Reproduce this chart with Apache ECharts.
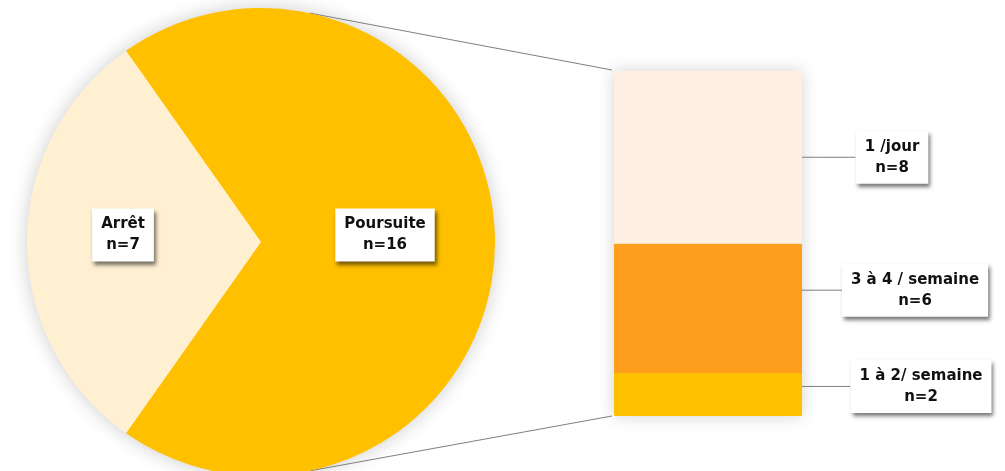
<!DOCTYPE html>
<html>
<head>
<meta charset="utf-8">
<script src="https://cdn.jsdelivr.net/npm/echarts@6/dist/echarts.min.js"></script>
<style>
html, body { margin: 0; padding: 0; background: #fff; }
#main { width: 1005px; height: 471px; }
</style>
</head>
<body>
<div id="main"></div>
<script>
// pie : arrêt / poursuite
const pieNames = ['Arrêt', 'Poursuite']
const pieValues = [7, 16]
const pieColors = ['#fff0d2', '#ffc000']

// bar : fréquence chez les 16 "poursuite" (bas -> haut)
const barNames = ['1 à 2/ semaine', '3 à 4 / semaine', '1 /jour']
const barValues = [2, 6, 8]
const barColors = ['#ffc000', '#fd9f1c', '#fdf0e3']
const barLabelDist = [119, 113, 90]
const barLabelDy = [-8, -18, 0]

const pieCenter = [261, 242]
const pieRadius = 234
const barGrid = { left: 614, top: 71, width: 188, height: 345 }

const font = 'DejaVu Sans'
const boxStyle = {
  color: '#111',
  fontFamily: font,
  fontWeight: 'bold',
  fontSize: 15,
  lineHeight: 21,
  align: 'center',
  backgroundColor: '#fff',
  padding: [6, 9, 5, 9],
  shadowColor: 'rgba(0,0,0,0.55)',
  shadowBlur: 4,
  shadowOffsetX: 2,
  shadowOffsetY: 3
}

const arretShare = pieValues[0] / (pieValues[0] + pieValues[1])
const startAngle = 180 + arretShare * 180

const barTotal = barValues.reduce((a, b) => a + b, 0)

const myChart = echarts.init(document.getElementById('main'))

// connector lines : pie edge -> bar corners
const a = 12 * Math.PI / 180
const topPt = [pieCenter[0] + pieRadius * Math.sin(a), pieCenter[1] - pieRadius * Math.cos(a)]
const botPt = [pieCenter[0] + pieRadius * Math.sin(a), pieCenter[1] + pieRadius * Math.cos(a)]

const option = {
  backgroundColor: '#fff',
  animation: false,
  graphic: [
    {
      type: 'circle',
      shape: { cx: pieCenter[0], cy: pieCenter[1], r: pieRadius - 1 },
      style: { fill: '#fff', shadowBlur: 20, shadowColor: 'rgba(0,0,0,0.22)' },
      z: -1
    },
    {
      type: 'rect',
      shape: { x: barGrid.left, y: barGrid.top, width: barGrid.width, height: barGrid.height },
      style: { fill: '#fff', shadowBlur: 16, shadowColor: 'rgba(0,0,0,0.18)' },
      z: -1
    },
    {
      type: 'line',
      shape: { x1: topPt[0], y1: topPt[1], x2: barGrid.left - 2, y2: barGrid.top - 1 },
      style: { stroke: '#7f7f7f', lineWidth: 1 }
    },
    {
      type: 'line',
      shape: { x1: botPt[0], y1: botPt[1], x2: barGrid.left - 2, y2: barGrid.top + barGrid.height },
      style: { stroke: '#7f7f7f', lineWidth: 1 }
    }
  ],
  grid: {
    left: barGrid.left,
    top: barGrid.top,
    width: barGrid.width,
    height: barGrid.height
  },
  xAxis: {
    type: 'category',
    data: [''],
    show: false
  },
  yAxis: {
    type: 'value',
    min: 0,
    max: barTotal,
    show: false
  },
  series: [
    {
      type: 'pie',
      center: pieCenter,
      radius: pieRadius,
      startAngle: startAngle,
      clockwise: true,
      silent: true,
      data: pieNames.map((n, i) => ({
        name: n,
        value: pieValues[i],
        itemStyle: { color: pieColors[i] }
      })),
      label: {
        show: true,
        position: 'inside',
        formatter: '{b}\nn={c}',
        ...boxStyle
      },
      labelLayout: function (params) {
        return { dx: params.dataIndex === 0 ? -18 : 4, dy: -7 }
      },
      labelLine: { show: false }
    }
  ].concat(barNames.map((n, i) => ({
    type: 'bar',
    name: n,
    stack: 'freq',
    barWidth: '100%',
    silent: true,
    data: [barValues[i]],
    itemStyle: { color: barColors[i] },
    label: {
      show: true,
      position: 'right',
      distance: barLabelDist[i],
      formatter: '{a}\nn={c}',
      ...boxStyle
    },
    labelLayout: { dy: barLabelDy[i] },
    labelLine: {
      show: true,
      lineStyle: { color: '#7f7f7f', width: 1 }
    }
  })))
}

myChart.setOption(option)
</script>
</body>
</html>
